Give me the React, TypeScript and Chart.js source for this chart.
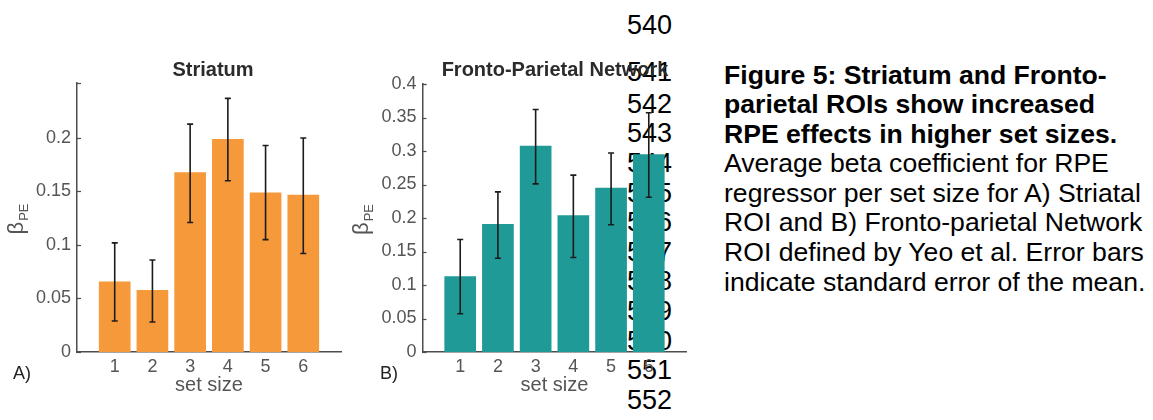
import React, { useEffect, useRef } from 'react';
import { Chart, registerables } from 'chart.js';

Chart.register(...registerables);

// ---------- data ----------
const setSizes = [1, 2, 3, 4, 5, 6];

const striatumMeans = [0.066, 0.058, 0.168, 0.199, 0.149, 0.147];
const striatumLower = [0.029, 0.028, 0.121, 0.160, 0.105, 0.092];
const striatumUpper = [0.102, 0.086, 0.213, 0.237, 0.193, 0.200];

const fpnMeans = [0.113, 0.191, 0.308, 0.204, 0.245, 0.295];
const fpnLower = [0.057, 0.140, 0.251, 0.141, 0.190, 0.231];
const fpnUpper = [0.168, 0.239, 0.362, 0.264, 0.297, 0.357];

const striatumYTicks = [0, 0.05, 0.1, 0.15, 0.2];
const fpnYTicks = [0, 0.05, 0.1, 0.15, 0.2, 0.25, 0.3, 0.35, 0.4];

const lineNumbers = [540, 541, 542, 543, 544, 545, 546, 547, 548, 549, 550, 551, 552];

const captionBold = [
  'Figure 5: Striatum and Fronto-',
  'parietal ROIs show increased',
  'RPE effects in higher set sizes.',
];
const captionRegular = [
  'Average beta coefficient for RPE',
  'regressor per set size for A) Striatal',
  'ROI and B) Fronto-parietal Network',
  'ROI defined by Yeo et al. Error bars',
  'indicate standard error of the mean.',
];

// ---------- style ----------
const FONT = "'Liberation Sans', Arial, Helvetica, sans-serif";
const AXIS_COLOR = '#4d4d4d';
const TICK_COLOR = '#555555';
const TITLE_COLOR = '#2b2b2b';

Chart.defaults.font.family = FONT;

type PanelCfg = {
  left: number;
  width: number;
  padTop: number;
  padRight: number;
  yAxisWidth: number;
  yMax: number;
  yTicks: number[];
  means: number[];
  lower: number[];
  upper: number[];
  color: string;
  title: string;
  titleX: number;
  letter: string;
  letterX: number;
  ylabelX: number;
};

function makePlugin(cfg: PanelCfg) {
  return {
    id: 'panelDecor',
    afterDatasetsDraw(chart: any) {
      const ctx = chart.ctx;
      const xs = chart.scales.x;
      const ys = chart.scales.y;
      ctx.save();
      ctx.strokeStyle = '#1c1c1c';
      ctx.lineWidth = 1.6;
      setSizes.forEach((v, i) => {
        const x = xs.getPixelForValue(v);
        const yl = ys.getPixelForValue(cfg.lower[i]);
        const yu = ys.getPixelForValue(cfg.upper[i]);
        ctx.beginPath();
        ctx.moveTo(x, yl);
        ctx.lineTo(x, yu);
        ctx.moveTo(x - 3, yl);
        ctx.lineTo(x + 3, yl);
        ctx.moveTo(x - 3, yu);
        ctx.lineTo(x + 3, yu);
        ctx.stroke();
      });
      ctx.restore();
    },
    afterDraw(chart: any) {
      const ctx = chart.ctx;
      const area = chart.chartArea;
      const ys = chart.scales.y;
      ctx.save();
      // inward ticks on y axis
      ctx.strokeStyle = AXIS_COLOR;
      ctx.lineWidth = 1.2;
      const tickVals = [...cfg.yTicks, cfg.yMax];
      tickVals.forEach((v) => {
        const y = Math.round(ys.getPixelForValue(v)) + 0.5;
        ctx.beginPath();
        ctx.moveTo(area.left, y);
        ctx.lineTo(area.left + 4, y);
        ctx.stroke();
      });
      // title
      ctx.fillStyle = TITLE_COLOR;
      ctx.font = `bold 20px ${FONT}`;
      ctx.textAlign = 'center';
      ctx.textBaseline = 'middle';
      ctx.fillText(cfg.title, cfg.titleX, 70);
      // panel letter
      ctx.fillStyle = '#222';
      ctx.font = `18px ${FONT}`;
      ctx.textAlign = 'left';
      ctx.fillText(cfg.letter, cfg.letterX, 374);
      // y label: beta with subscript PE (rotated)
      const yc = (area.top + area.bottom) / 2 + 2;
      ctx.translate(cfg.ylabelX, yc);
      ctx.rotate(-Math.PI / 2);
      ctx.fillStyle = TICK_COLOR;
      ctx.textBaseline = 'alphabetic';
      ctx.font = `22px ${FONT}`;
      const wb = ctx.measureText('β').width;
      ctx.font = `13px ${FONT}`;
      const wp = ctx.measureText('PE').width;
      const start = -(wb + wp) / 2;
      ctx.font = `22px ${FONT}`;
      ctx.fillText('β', start, 0);
      ctx.font = `13px ${FONT}`;
      ctx.fillText('PE', start + wb + 1, 5);
      ctx.restore();
    },
  };
}

function makeConfig(cfg: PanelCfg): any {
  return {
    type: 'bar',
    data: {
      datasets: [
        {
          data: setSizes.map((x, i) => ({ x, y: cfg.means[i] })),
          backgroundColor: cfg.color,
          borderWidth: 0,
          barPercentage: 0.84,
          categoryPercentage: 1,
        },
      ],
    },
    options: {
      animation: false,
      responsive: false,
      events: [],
      layout: { padding: { top: cfg.padTop, left: 0, right: cfg.padRight, bottom: 0 } },
      plugins: {
        legend: { display: false },
        title: { display: false },
        tooltip: { enabled: false },
      },
      scales: {
        x: {
          type: 'linear',
          min: 0,
          max: 7,
          offset: false,
          grid: { display: false, drawTicks: false },
          border: { display: true, color: AXIS_COLOR, width: 1.5 },
          ticks: { font: { size: 18 }, color: TICK_COLOR, padding: 4 },
          title: {
            display: true,
            text: 'set size',
            font: { size: 20 },
            color: TICK_COLOR,
            padding: { top: 0, bottom: 23 },
          },
          afterBuildTicks: (s: any) => {
            s.ticks = setSizes.map((v) => ({ value: v }));
          },
          afterFit: (s: any) => {
            s.height = 68;
          },
        },
        y: {
          type: 'linear',
          min: 0,
          max: cfg.yMax,
          grid: { display: false, drawTicks: false },
          border: { display: true, color: AXIS_COLOR, width: 1.5 },
          ticks: {
            font: { size: 18 },
            color: TICK_COLOR,
            padding: 6,
            callback: (v: any) => String(+Number(v).toFixed(2)),
          },
          afterBuildTicks: (s: any) => {
            s.ticks = cfg.yTicks.map((v) => ({ value: v }));
          },
          afterFit: (s: any) => {
            s.width = cfg.yAxisWidth;
          },
        },
      },
    },
    plugins: [makePlugin(cfg)],
  };
}

const panelA: PanelCfg = {
  left: 0,
  width: 345,
  padTop: 83,
  padRight: 4,
  yAxisWidth: 77,
  yMax: 0.2514,
  yTicks: striatumYTicks,
  means: striatumMeans,
  lower: striatumLower,
  upper: striatumUpper,
  color: '#F6993B',
  title: 'Striatum',
  titleX: 213,
  letter: 'A)',
  letterX: 13,
  ylabelX: 23,
};

const panelB: PanelCfg = {
  left: 345,
  width: 355,
  padTop: 84,
  padRight: 13.5,
  yAxisWidth: 77.5,
  yMax: 0.4,
  yTicks: fpnYTicks,
  means: fpnMeans,
  lower: fpnLower,
  upper: fpnUpper,
  color: '#1F9A97',
  title: 'Fronto-Parietal Network',
  titleX: 210,
  letter: 'B)',
  letterX: 35,
  ylabelX: 23,
};

function Panel({ cfg }: { cfg: PanelCfg }) {
  const ref = useRef<HTMLCanvasElement>(null);
  useEffect(() => {
    if (!ref.current) return;
    const chart = new Chart(ref.current, makeConfig(cfg));
    return () => chart.destroy();
  }, [cfg]);
  return (
    <canvas
      ref={ref}
      width={cfg.width}
      height={420}
      style={{ position: 'absolute', left: cfg.left, top: 0, width: cfg.width, height: 420 }}
    />
  );
}

function lineNumberCenter(i: number) {
  if (i === 0) return 25;
  if (i === 1) return 72;
  return 104 + (i - 2) * 29.6;
}

export default function App() {
  const numSize = 27;
  const capSize = 26.6;
  const captionLines = [
    ...captionBold.map((t) => ({ t, bold: true })),
    ...captionRegular.map((t) => ({ t, bold: false })),
  ];
  return (
    <div
      style={{
        position: 'absolute',
        left: 0,
        top: 0,
        width: 1153,
        height: 420,
        background: '#ffffff',
        overflow: 'hidden',
        fontFamily: FONT,
      }}
    >
      {lineNumbers.map((n, i) => (
        <div
          key={n}
          style={{
            position: 'absolute',
            left: 627,
            top: lineNumberCenter(i) - 0.4885 * numSize,
            fontSize: numSize,
            lineHeight: `${numSize}px`,
            color: '#000',
            whiteSpace: 'nowrap',
          }}
        >
          {n}
        </div>
      ))}
      <Panel cfg={panelA} />
      <Panel cfg={panelB} />
      {captionLines.map((l, i) => (
        <div
          key={i}
          style={{
            position: 'absolute',
            left: 724,
            top: lineNumberCenter(i + 1) + (i === 0 ? 3 : 0) - 0.4885 * capSize,
            fontSize: capSize,
            lineHeight: `${capSize}px`,
            fontWeight: l.bold ? 'bold' : 'normal',
            color: '#000',
            whiteSpace: 'nowrap',
          }}
        >
          {l.t}
        </div>
      ))}
    </div>
  );
}
